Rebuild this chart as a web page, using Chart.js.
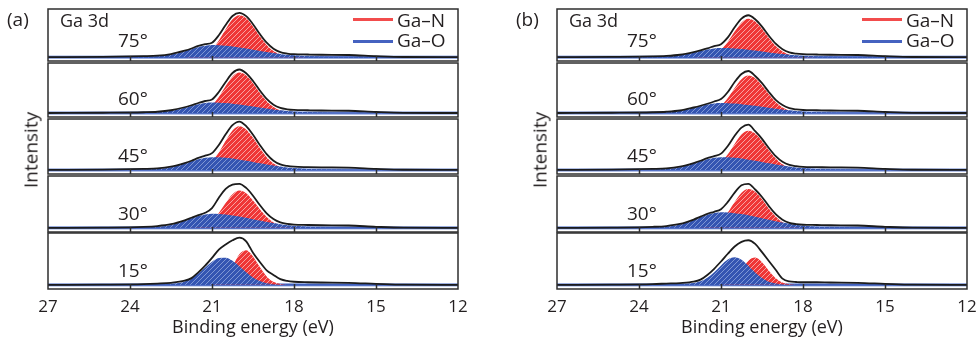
<!DOCTYPE html>
<html>
<head>
<meta charset="utf-8">
<script src="https://cdn.jsdelivr.net/npm/chart.js@4.4.1/dist/chart.umd.min.js"></script>
<style>
  body { margin: 0; width: 979px; height: 341px; position: relative; overflow: hidden;
         background: #fff; color: #231f20; font-family: "Open Sans", "Noto Sans", sans-serif; }
  canvas { position: absolute; }
  .lbl { position: absolute; white-space: nowrap; line-height: 1; }
  .key { position: absolute; height: 2.5px; width: 40px; }
</style>
</head>
<body>
<script>
// binding energy grid (eV), shared by every curve
const energy = [27, 25, 23.5, 23, 22.5, 22, 21.75, 21.5, 21.25, 21, 20.75, 20.5, 20.25, 20,
                19.75, 19.5, 19.25, 19, 18.75, 18.5, 18.25, 18, 17.5, 17, 16, 15, 14, 12];
const angles = ['75°', '60°', '45°', '30°', '15°'];
const xTicks = [27, 24, 21, 18, 15, 12];

// panel (a): one row per angle
const aGaN = [
  [0,0,0,0,0,0,.006,.022,.067,.169,.345,.578,.785,.87,.806,.639,.435,.254,.127,.054,.02,.006,0,0,0,0,0,0],
  [0,0,0,0,0,0,.006,.02,.062,.157,.322,.538,.731,.81,.75,.595,.405,.237,.118,.051,.019,.006,0,0,0,0,0,0],
  [0,0,0,0,0,0,.006,.022,.066,.167,.341,.571,.776,.86,.796,.632,.43,.251,.126,.054,.02,.006,0,0,0,0,0,0],
  [0,0,0,0,0,0,.005,.018,.055,.14,.286,.478,.649,.72,.667,.529,.36,.21,.105,.045,.017,.005,0,0,0,0,0,0],
  [0,0,0,0,0,0,0,0,0,.006,.035,.134,.345,.588,.667,.549,.343,.163,.058,.016,.003,0,0,0,0,0,0,0]
];
const aGaO = [
  [0,0,.003,.016,.053,.125,.169,.21,.239,.25,.247,.237,.222,.202,.179,.155,.13,.106,.085,.066,.05,.037,.018,.008,.001,0,0,0],
  [0,0,.003,.013,.044,.105,.142,.177,.201,.21,.207,.199,.186,.169,.15,.13,.109,.089,.071,.055,.042,.031,.015,.007,.001,0,0,0],
  [0,0,.003,.016,.053,.125,.169,.21,.239,.25,.247,.237,.222,.202,.179,.155,.13,.106,.085,.066,.05,.037,.018,.008,.001,0,0,0],
  [0,0,.004,.017,.057,.135,.183,.227,.258,.27,.266,.256,.239,.218,.193,.167,.14,.115,.092,.071,.053,.039,.02,.009,.001,0,0,0],
  [0,0,0,.001,.011,.064,.127,.22,.335,.446,.517,.524,.464,.359,.242,.143,.074,.033,.013,.004,.001,0,0,0,0,0,0,0]
];
const aTotal = [
  [0,.005,.02,.03,.065,.135,.18,.235,.27,.3,.455,.668,.855,.92,.851,.684,.48,.3,.175,.104,.075,.061,.055,.05,.045,.02,.003,0],
  [0,.005,.015,.025,.055,.115,.155,.2,.24,.27,.42,.62,.8,.87,.795,.64,.45,.282,.166,.101,.074,.061,.055,.05,.045,.02,.003,0],
  [0,.005,.02,.03,.065,.135,.18,.235,.28,.33,.49,.7,.88,.95,.86,.69,.49,.31,.18,.108,.078,.063,.055,.05,.045,.02,.003,0],
  [0,.005,.02,.035,.07,.145,.195,.245,.29,.38,.58,.75,.835,.85,.77,.62,.44,.28,.17,.105,.075,.062,.055,.05,.045,.02,.003,0],
  [0,.005,.015,.025,.04,.08,.13,.24,.37,.52,.68,.78,.86,.91,.84,.62,.44,.28,.19,.11,.075,.06,.05,.045,.04,.02,.003,0]
];

// panel (b)
const bGaN = [
  [0,0,0,0,0,0,.006,.02,.062,.155,.318,.531,.722,.8,.741,.588,.4,.234,.117,.05,.018,.006,0,0,0,0,0,0],
  [0,0,0,0,0,0,.005,.019,.058,.146,.298,.498,.677,.75,.695,.551,.375,.219,.11,.047,.017,.005,0,0,0,0,0,0],
  [0,0,0,0,0,0,.005,.019,.059,.149,.306,.511,.695,.77,.713,.566,.385,.225,.112,.048,.018,.005,0,0,0,0,0,0],
  [0,0,0,0,0,0,.005,.019,.058,.146,.298,.498,.677,.75,.695,.551,.375,.219,.11,.047,.017,.005,0,0,0,0,0,0],
  [0,0,0,0,0,0,0,0,0,.005,.028,.106,.273,.465,.527,.435,.271,.129,.046,.013,.003,0,0,0,0,0,0,0]
];
const bGaO = [
  [0,0,.002,.012,.04,.095,.129,.16,.182,.19,.188,.18,.169,.153,.136,.117,.099,.081,.064,.05,.038,.028,.014,.006,.001,0,0,0],
  [0,0,.003,.013,.042,.1,.135,.168,.191,.2,.197,.19,.177,.161,.143,.124,.104,.085,.068,.053,.04,.029,.015,.007,.001,0,0,0],
  [0,0,.003,.016,.053,.125,.169,.21,.239,.25,.247,.237,.222,.202,.179,.155,.13,.106,.085,.066,.05,.037,.018,.008,.001,0,0,0],
  [0,0,.004,.019,.063,.15,.203,.252,.287,.3,.296,.284,.266,.242,.215,.185,.156,.128,.102,.079,.059,.044,.022,.01,.002,0,0,0],
  [0,0,0,0,.004,.035,.07,.135,.245,.375,.487,.53,.485,.37,.24,.13,.06,.025,.01,.003,0,0,0,0,0,0,0,0]
];
const bTotal = [
  [0,.005,.015,.025,.05,.105,.14,.18,.23,.27,.41,.62,.8,.87,.786,.633,.445,.279,.165,.1,.073,.061,.055,.05,.045,.02,.003,0],
  [0,.005,.015,.025,.05,.11,.145,.185,.23,.28,.42,.62,.78,.84,.74,.596,.42,.264,.158,.097,.072,.06,.055,.05,.045,.02,.003,0],
  [0,.005,.02,.03,.065,.135,.18,.23,.27,.32,.47,.67,.83,.89,.76,.61,.43,.27,.16,.098,.073,.06,.055,.05,.045,.02,.003,0],
  [0,.005,.02,.035,.075,.16,.215,.27,.31,.36,.5,.68,.82,.85,.74,.596,.42,.264,.158,.097,.072,.06,.055,.05,.045,.02,.003,0],
  [0,.005,.015,.025,.035,.06,.1,.19,.31,.45,.6,.74,.83,.86,.79,.63,.46,.29,.12,.065,.055,.05,.05,.045,.04,.02,.003,0]
];

// layout
const panels = [
  { tag: '(a)', left: 48, gaN: aGaN, gaO: aGaO, total: aTotal },
  { tag: '(b)', left: 557, gaN: bGaN, gaO: bGaO, total: bTotal }
];
const rowTop = [9, 63, 119, 176, 233];
const rowHeight = [52, 54, 55, 56, 56];
const plotWidth = 410;
const side = 20;
const axisHeight = 52;

function hatch(base, stripe) {
  const c = document.createElement('canvas');
  c.width = 5; c.height = 5;
  const g = c.getContext('2d');
  g.fillStyle = base;
  g.fillRect(0, 0, 5, 5);
  g.strokeStyle = stripe;
  g.lineWidth = 1;
  g.beginPath();
  g.moveTo(0, 5); g.lineTo(5, 0);
  g.moveTo(-1, 1); g.lineTo(1, -1);
  g.moveTo(4, 6); g.lineTo(6, 4);
  g.stroke();
  return g.createPattern(c, 'repeat');
}
const redHatch = hatch('#ef3636', '#f8a2a2');
const blueHatch = hatch('#3455b2', '#7f97d4');

// blue baseline under the curves, frame and inward ticks on top
const framePlugin = {
  id: 'frame',
  beforeDatasetsDraw(chart) {
    const { ctx, chartArea: a, scales: { y } } = chart;
    const y0 = y.getPixelForValue(0);
    ctx.save();
    ctx.strokeStyle = '#9aaddf'; ctx.lineWidth = 3.5;
    ctx.beginPath(); ctx.moveTo(a.left, y0); ctx.lineTo(a.right, y0); ctx.stroke();
    ctx.strokeStyle = '#3e5fbe'; ctx.lineWidth = 1.6;
    ctx.beginPath(); ctx.moveTo(a.left, y0); ctx.lineTo(a.right, y0); ctx.stroke();
    ctx.restore();
  },
  afterDraw(chart) {
    const { ctx, chartArea: a, scales: { x } } = chart;
    ctx.save();
    ctx.strokeStyle = '#2e2e2e';
    ctx.lineWidth = 1.5;
    ctx.strokeRect(a.left, a.top, a.right - a.left, a.bottom - a.top);
    ctx.beginPath();
    xTicks.slice(1, -1).forEach(v => {
      const px = Math.round(x.getPixelForValue(v)) + 0.5;
      ctx.moveTo(px, a.bottom);
      ctx.lineTo(px, a.bottom - 5);
    });
    ctx.stroke();
    ctx.restore();
  }
};

function points(values) {
  return energy.map((e, i) => ({ x: e, y: values[i] }));
}

function addLabel(text, left, top, size, extra) {
  const d = document.createElement('div');
  d.className = 'lbl';
  d.textContent = text;
  d.style.left = left + 'px';
  d.style.top = top + 'px';
  d.style.fontSize = size + 'px';
  if (extra) Object.assign(d.style, extra);
  document.body.appendChild(d);
}

function addKey(color, left, top) {
  const d = document.createElement('div');
  d.className = 'key';
  d.style.left = left + 'px';
  d.style.top = top + 'px';
  d.style.background = color;
  document.body.appendChild(d);
}

panels.forEach(p => {
  angles.forEach((angle, r) => {
    const last = r === angles.length - 1;
    const canvas = document.createElement('canvas');
    const w = plotWidth + 2 * side;
    const h = last ? rowHeight[r] + 1 + axisHeight : rowHeight[r] + 2;
    canvas.width = w; canvas.height = h;
    canvas.style.left = (p.left - side) + 'px';
    canvas.style.top = (rowTop[r] - 1) + 'px';
    canvas.style.width = w + 'px';
    canvas.style.height = h + 'px';
    document.body.appendChild(canvas);

    new Chart(canvas.getContext('2d'), {
      type: 'line',
      data: {
        datasets: [
          { label: 'Total', data: points(p.total[r]), borderColor: '#1c1c1c', borderWidth: 1.8,
            fill: false, order: 0 },
          { label: 'Ga–O', data: points(p.gaO[r]), backgroundColor: blueHatch,
            borderColor: 'rgba(0,0,0,0)', borderWidth: 0, fill: 'origin', order: 1 },
          { label: 'Ga–N', data: points(p.gaN[r]), backgroundColor: redHatch,
            borderColor: 'rgba(0,0,0,0)', borderWidth: 0, fill: 'origin', order: 2 }
        ]
      },
      options: {
        responsive: false,
        animation: false,
        devicePixelRatio: 1,
        cubicInterpolationMode: 'monotone',
        elements: { point: { radius: 0 } },
        layout: { padding: { left: side, right: side, top: 1, bottom: last ? 0 : 1 } },
        plugins: { legend: { display: false }, tooltip: { enabled: false } },
        scales: {
          x: {
            type: 'linear', min: 12, max: 27, reverse: true,
            display: last,
            grid: { display: false, drawTicks: false },
            border: { display: false },
            afterBuildTicks: s => { s.ticks = xTicks.map(v => ({ value: v })); },
            afterFit: s => { s.height = last ? axisHeight : 0; },
            ticks: { autoSkip: false, maxRotation: 0, padding: 8, color: '#231f20',
                     font: { family: '"Open Sans", sans-serif', size: 17 } },
            title: { display: true, text: 'Binding energy (eV)', color: '#231f20',
                     padding: { top: 0, bottom: 2 },
                     font: { family: '"Open Sans", sans-serif', size: 18 } }
          },
          y: { type: 'linear', min: -0.08, max: 1.0, display: false }
        }
      },
      plugins: [framePlugin]
    });

    const bottom = rowTop[r] + rowHeight[r];
    const mid = r === 0 ? bottom - 20.5 : bottom - 18.5;
    addLabel(angle, p.left + 70, mid - 10, 19);
  });

  addLabel(p.tag, p.left - 41, 10, 19);
  addLabel('Ga 3d', p.left + 12, 11, 18);
  addLabel('Intensity', p.left - 17, 150, 19,
           { transform: 'translate(-50%, -50%) rotate(-90deg)' });
  addKey('#f24c4c', p.left + 305, 18);
  addKey('#4562c0', p.left + 305, 40);
  addLabel('Ga–N', p.left + 349, 11, 19);
  addLabel('Ga–O', p.left + 349, 31, 19);
});
</script>
</body>
</html>
